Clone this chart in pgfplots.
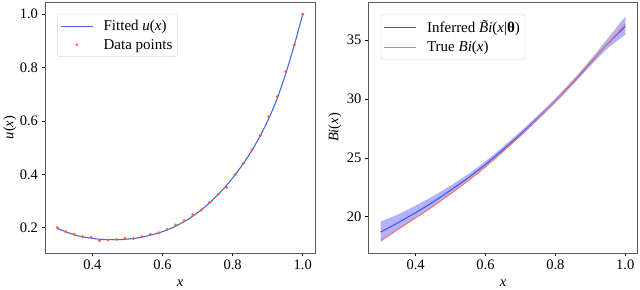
\documentclass[border=0pt]{standalone}
\usepackage{pgfplots}
\pgfplotsset{compat=1.18}
\usepgfplotslibrary{fillbetween}
\usepackage{fontspec}
\setmainfont{Liberation Serif}
\definecolor{fitblue}{RGB}{65,105,225}
\definecolor{dotred}{RGB}{250,95,75}
\definecolor{infblue}{RGB}{55,85,225}
\definecolor{truered}{RGB}{250,115,100}
\definecolor{spine}{RGB}{90,90,90}
\newcommand\fs{\fontsize{14.5}{17}\selectfont}
\newcommand\fl{\fontsize{15}{18}\selectfont}
\pgfplotsset{
  base/.style={
    scale only axis, anchor=south west,
    axis line style={draw=spine, line width=0.8pt},
    xtick pos=lower, ytick pos=left, tick align=outside,
    major tick length=3.5pt,
    tick style={draw=black, line width=0.6pt},
    tick label style={font=\fs},
    /pgf/number format/assume math mode=true,
    xmin=0.265, xmax=1.035,
    xtick={0.4,0.6,0.8,1.0},
    xticklabel style={/pgf/number format/.cd,fixed,fixed zerofill,precision=1},
    xlabel={\textit{x}},
    label style={font=\fs},
    xlabel style={at={(axis description cs:0.5,-0.12)}, anchor=center},
    legend cell align=left,
    legend style={draw=black!15, fill=white, rounded corners=2pt, font=\fl,
      inner xsep=3pt, inner ysep=4pt, row sep=3pt, column sep=8pt, anchor=north west},
  },
  lineleg/.style={legend image code/.code={\draw[##1,mark=none,line width=1.3pt] (0pt,0pt) -- (32pt,0pt);}},
  markleg/.style={legend image code/.code={\draw[##1] plot coordinates {(16pt,0pt)};}},
}
\pgfplotstableread{
x y
0.3000 0.200
0.3241 0.185
0.3483 0.175
0.3724 0.166
0.3966 0.164
0.4207 0.151
0.4448 0.154
0.4690 0.156
0.4931 0.160
0.5172 0.159
0.5414 0.166
0.5655 0.175
0.5897 0.181
0.6138 0.194
0.6379 0.210
0.6621 0.226
0.6862 0.248
0.7103 0.266
0.7345 0.295
0.7586 0.325
0.7828 0.351
0.8069 0.398
0.8310 0.441
0.8552 0.491
0.8793 0.546
0.9034 0.616
0.9276 0.691
0.9517 0.785
0.9759 0.885
1.0000 1.000
}\datapts
\pgfplotstableread{
x y
0.300 0.198
0.325 0.184
0.350 0.173
0.375 0.165
0.400 0.160
0.425 0.156
0.450 0.155
0.475 0.155
0.500 0.157
0.525 0.161
0.550 0.167
0.575 0.175
0.600 0.185
0.625 0.198
0.650 0.214
0.675 0.233
0.700 0.256
0.725 0.282
0.750 0.313
0.775 0.347
0.800 0.386
0.825 0.430
0.850 0.479
0.875 0.535
0.900 0.600
0.925 0.677
0.950 0.771
0.975 0.880
1.000 1.000
}\fitted
\pgfplotstableread{
x m lo hi
0.30 18.70 17.85 19.60
0.35 19.50 18.90 20.20
0.40 20.35 19.90 20.95
0.45 21.25 20.85 21.75
0.50 22.25 21.95 22.65
0.55 23.30 23.05 23.62
0.60 24.45 24.22 24.72
0.65 25.70 25.48 25.95
0.70 27.00 26.80 27.25
0.75 28.40 28.20 28.62
0.80 29.85 29.65 30.05
0.85 31.40 31.20 31.62
0.90 33.05 32.80 33.32
0.95 34.70 34.30 35.15
1.00 36.15 35.45 37.00
}\inferred
\pgfplotstableread{
x y
0.30 18.00
0.35 18.95
0.40 19.90
0.45 20.90
0.50 21.95
0.55 23.05
0.60 24.25
0.65 25.55
0.70 26.90
0.75 28.35
0.80 29.85
0.85 31.45
0.90 33.10
0.95 34.70
1.00 36.35
}\truebi
\begin{document}
\begin{tikzpicture}
\begin{axis}[base, at={(45pt,34pt)}, width=270pt, height=251pt,
  ymin=0.105, ymax=1.046,
  ytick={0.2,0.4,0.6,0.8,1.0},
  yticklabel style={/pgf/number format/.cd,fixed,fixed zerofill,precision=1},
  ylabel={\textit{u}(\textit{x})},
  ylabel style={at={(axis description cs:-0.13,0.5)}, anchor=center},
  legend style={at={(axis description cs:0.045,0.952)}},
]
\addplot[fitblue, line width=1.1pt, smooth, lineleg] table[x=x,y=y]{\fitted};
\addlegendentry{Fitted \textit{u}(\textit{x})}
\addplot[only marks, mark=*, mark size=1.3pt, color=dotred, markleg] table[x=x,y=y]{\datapts};
\addlegendentry{Data points}
\end{axis}
\begin{axis}[base, at={(368.5pt,34pt)}, width=269pt, height=251pt,
  ymin=16.92, ymax=38.23,
  ytick={20,25,30,35},
  ylabel={\textit{Bi}(\textit{x})},
  ylabel style={at={(axis description cs:-0.125,0.5)}, anchor=center},
  legend style={at={(axis description cs:0.045,0.952)}},
]
\addplot[name path=up, draw=none, smooth, forget plot] table[x=x,y=hi]{\inferred};
\addplot[name path=dn, draw=none, smooth, forget plot] table[x=x,y=lo]{\inferred};
\addplot[fill=blue, fill opacity=0.3, draw=none, forget plot] fill between[of=up and dn];
\addplot[infblue, line width=1.0pt, smooth, lineleg] table[x=x,y=m]{\inferred};
\addlegendentry{Inferred \textit{B̃i}(\textit{x}|\textbf{θ})}
\addplot[truered, line width=1.0pt, smooth, lineleg] table[x=x,y=y]{\truebi};
\addlegendentry{True \textit{Bi}(\textit{x})}
\end{axis}
\path (0pt,0pt) rectangle (640pt,287pt);
\end{tikzpicture}
\end{document}
